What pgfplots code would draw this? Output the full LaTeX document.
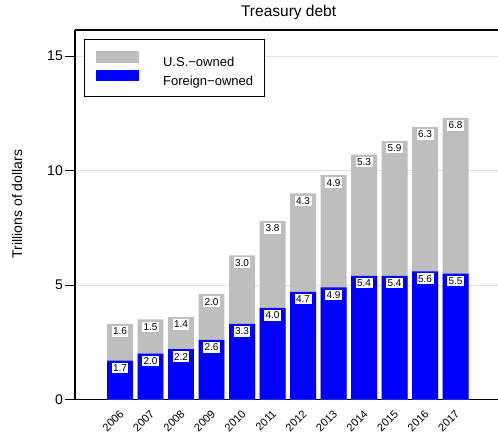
\documentclass[border=0pt]{standalone}
\usepackage{pgfplots}
\pgfplotsset{compat=1.18}
\usepackage{fontspec}
\setmainfont{Liberation Sans}
\definecolor{usgray}{HTML}{BEBEBE}
\definecolor{fblue}{HTML}{0000FF}
\definecolor{gridgray}{HTML}{E4E4E4}
\begin{document}
\begin{tikzpicture}
\path[use as bounding box] (-75bp,-34.5bp) rectangle (423bp,399.5bp);
\begin{axis}[
  at={(0,0)}, anchor=south west,
  scale only axis, width=423bp, height=369.5bp,
  xmin=-1.475, xmax=12.39, ymin=0, ymax=16.14,
  ybar, bar width=0.85, bar shift=0pt,
  clip=false,
  axis lines=left, axis line style={-, line width=1.3bp, black},
  xtick={0,...,11},
  xticklabels={2006,2007,2008,2009,2010,2011,2012,2013,2014,2015,2016,2017},
  ytick={0,5,10,15},
  /pgf/number format/assume math mode=true,
  tick align=outside, major tick length=10bp,
  xtick style={draw=none},
  ytick style={line width=1bp, black},
  ymajorgrids, major grid style={gridgray, line width=0.9bp},
  yticklabel style={font=\fontsize{14bp}{16bp}\selectfont, inner sep=2bp},
  xticklabel style={rotate=45, anchor=north east, font=\fontsize{11bp}{12bp}\selectfont, inner sep=0.5bp, yshift=1.5bp},
  every axis y label/.style={at={(rel axis cs:0,0.529)}, xshift=-58bp, rotate=90, anchor=center, font=\fontsize{14bp}{16bp}\selectfont},
  ylabel={Trillions of dollars},
  title={Treasury debt},
  title style={at={(rel axis cs:0.505,1)}, anchor=base, yshift=8bp, font=\fontsize{15.5bp}{18bp}\selectfont},
  point meta=explicit symbolic,
  nodes near coords,
  every node near coord/.append style={anchor=north, yshift=-2bp, fill=white, inner xsep=1.5bp, inner ysep=1.7bp, text height=7bp, text depth=0bp, font=\fontsize{10bp}{10bp}\selectfont, text=black},
  legend cell align=left,
  legend image code/.code={\fill[#1] (0bp,0bp) rectangle (43bp,11.5bp); \path[fill=none,draw=none] (0bp,-3.5bp) rectangle (67bp,13.5bp);},
  legend style={at={(rel axis cs:0.0213,0.9756)}, anchor=north west, draw=black, line width=1.2bp, fill=white,
    font=\fontsize{13bp}{15bp}\selectfont, inner xsep=11.5bp, inner ysep=9.4bp, row sep=0bp,
    nodes={inner sep=0pt}},
]
% gray bars drawn at the total height (foreign + U.S.-owned); labels give U.S.-owned
\addplot[fill=usgray, draw=none] coordinates {
(0,3.3)[1.6] (1,3.5)[1.5] (2,3.6)[1.4] (3,4.6)[2.0] (4,6.3)[3.0] (5,7.8)[3.8]
(6,9.0)[4.3] (7,9.8)[4.9] (8,10.7)[5.3] (9,11.3)[5.9] (10,11.9)[6.3] (11,12.3)[6.8]};
\addlegendentry{U.S.−owned}
\addplot[fill=fblue, draw=none] coordinates {
(0,1.7)[1.7] (1,2.0)[2.0] (2,2.2)[2.2] (3,2.6)[2.6] (4,3.3)[3.3] (5,4.0)[4.0]
(6,4.7)[4.7] (7,4.9)[4.9] (8,5.4)[5.4] (9,5.4)[5.4] (10,5.6)[5.6] (11,5.5)[5.5]};
\addlegendentry{Foreign−owned}
\draw[line width=1.3bp] (rel axis cs:0,1) -- (rel axis cs:1,1);
\end{axis}
\end{tikzpicture}
\end{document}
